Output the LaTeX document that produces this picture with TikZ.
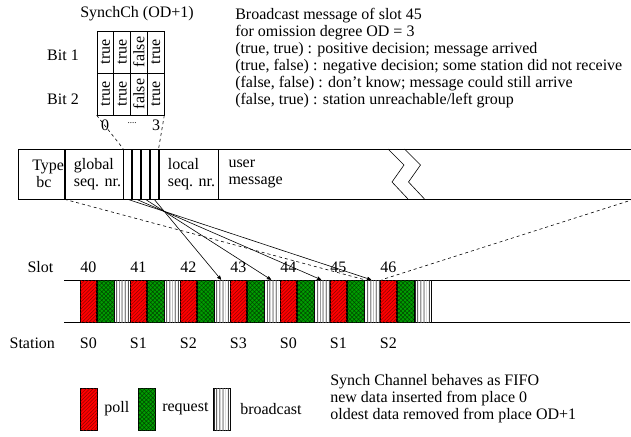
\documentclass[tikz,border=0pt]{standalone}
\usepackage{fontspec}
\setmainfont{Liberation Serif}
\usepackage{graphicx}
\usepackage{tikz}
\usetikzlibrary{arrows,positioning,patterns.meta}
\definecolor{pollred}{rgb}{1,0,0}
\definecolor{hatchred}{rgb}{0.55,0,0}
\definecolor{reqgreen}{rgb}{0,0.62,0}
\definecolor{hatchgreen}{rgb}{0,0.28,0}

\begin{document}
\begin{tikzpicture}[x=1pt,y=-1pt,>=stealth',semithick,
                    font=\fontsize{16}{17}\selectfont]
  \tikzstyle{slotbox}=[draw=black,minimum width=16.75pt,minimum height=42pt,inner sep=0pt]
  \tikzstyle{pollbox}=[slotbox,fill=pollred,
      postaction={pattern={Lines[angle=45,distance=2.5pt,line width=0.5pt]},pattern color=hatchred}]
  \tikzstyle{reqbox}=[slotbox,fill=reqgreen,
      postaction={pattern={Hatch[angle=45,distance=3pt,line width=0.5pt]},pattern color=hatchgreen}]
  \tikzstyle{bcbox}=[slotbox,fill=white,
      postaction={pattern={Lines[angle=90,distance=3.35pt,line width=0.7pt]},pattern color=black}]
  \tikzstyle{cell}=[draw,minimum width=16.75pt,minimum height=42pt,inner sep=0pt]
  \tikzstyle{field}=[draw,minimum height=50pt,inner sep=0pt,anchor=west]
  \tikzstyle{fieldtext}=[inner sep=0pt,align=left,anchor=west]

  \useasboundingbox (0,0) rectangle (631,436);

  % synch channel of the broadcast message
  \node (synchch) at (137,14) {SynchCh (OD+1)};
  \node (bit1) at (63,55) {Bit 1};
  \node (bit2) at (63,99) {Bit 2};
  \foreach \r/\y in {1/52,2/94}
    \foreach \v [count=\c] in {true,true,false,true}
      \node[cell] (c\r\c) at (88.625+16.75*\c,\y) {\rotatebox{90}{\v}};
  \node (idx0) at (105,125) {0};
  \node (idxdots) at (132,123) {\fontsize{9}{9}\selectfont ....};
  \node (idx3) at (156,125) {3};

  \node[anchor=north west,align=left,inner sep=0pt] (bcmsg) at (235,8)
    {Broadcast message of slot 45\\
     for omission degree OD = 3\\
     (true, true) : positive decision; message arrived\\
     (true, false) : negative decision; some station did not receive\\
     (false, false) : don't know; message could still arrive\\
     (false, true) : station unreachable/left group};

  % broadcast message
  \node[field,minimum width=46pt] (ftype) at (18,174) {};
  \node[field,minimum width=58pt,right=0pt of ftype] (fglobal) {};
  \node[field,minimum width=8.25pt,right=0pt of fglobal] (s0) {};
  \node[field,minimum width=8.25pt,right=0pt of s0] (s1) {};
  \node[field,minimum width=8.25pt,right=0pt of s1] (s2) {};
  \node[field,minimum width=8.25pt,right=0pt of s2] (s3) {};
  \node[field,minimum width=59pt,right=0pt of s3] (flocal) {};
  \node[field,minimum width=415pt,right=0pt of flocal] (fuser) {};
  \node[fieldtext,right=14pt of ftype.west] (ttype) {Type\\\hspace*{4pt}bc};
  \node[fieldtext,right=9pt of fglobal.west] (tglobal) {global\\seq. nr.};
  \node[fieldtext,right=9pt of flocal.west] (tlocal) {local\\seq. nr.};
  \node[fieldtext,right=10pt of fuser.west] (tuser) {user\\message};
  \draw (388,149) -- (404,165) -- (392,182) -- (408,199);
  \draw (404.5,149) -- (420.5,165) -- (408.5,182) -- (424.5,199);

  \draw[dashed] (c21.south west) -- (s0.north west);
  \draw[dashed] (c24.south east) -- (s3.north east);

  % slots
  \node[anchor=east] (slotlbl) at (57,267) {Slot};
  \node[anchor=west] (statlbl) at (6,343) {Station};
  \coordinate (bartl) at (64,280);
  \coordinate (bartr) at (630,280);
  \coordinate (barbl) at (64,322);
  \coordinate (barbr) at (630,322);
  \draw (bartl) -- (bartr);
  \draw (barbl) -- (barbr);
  \foreach \n/\s [count=\k from 0] in {40/S0,41/S1,42/S2,43/S3,44/S0,45/S1,46/S2} {
    \node[pollbox] (poll\n) at (88.4+50*\k,301) {};
    \node[reqbox,right=0pt of poll\n] (req\n) {};
    \node[bcbox,right=0pt of req\n] (bc\n) {};
    \node (slot\n) at (88.4+50*\k,267) {\n};
    \node (stat\n) at (88.4+50*\k,343) {\s};
  }

  \draw[dashed] (fglobal.south west) -- (bc45.north west);
  \draw[dashed] (fuser.south east) -- (bc45.north east);
  \draw[->] (s3.south) -- ([xshift=-2pt]bc42.north);
  \draw[->] (s2.south) -- ([xshift=-2pt]bc43.north);
  \draw[->] (s1.south) -- ([xshift=-2pt]bc44.north);
  \draw[->] (s0.south) -- ([xshift=-2pt]bc45.north);

  % legend
  \node[pollbox] (lpoll) at (89,409) {};
  \node[right=3pt of lpoll] (tpoll) {poll};
  \node[reqbox] (lreq) at (147,409) {};
  \node[right=3pt of lreq] (treq) {request};
  \node[bcbox] (lbc) at (222,409) {};
  \node[right=6pt of lbc] (tbc) {broadcast};
  \node[anchor=north west,align=left,inner sep=0pt] (fifo) at (330,374)
    {Synch Channel behaves as FIFO\\
     new data inserted from place 0\\
     oldest data removed from place OD+1};
\end{tikzpicture}
\end{document}
